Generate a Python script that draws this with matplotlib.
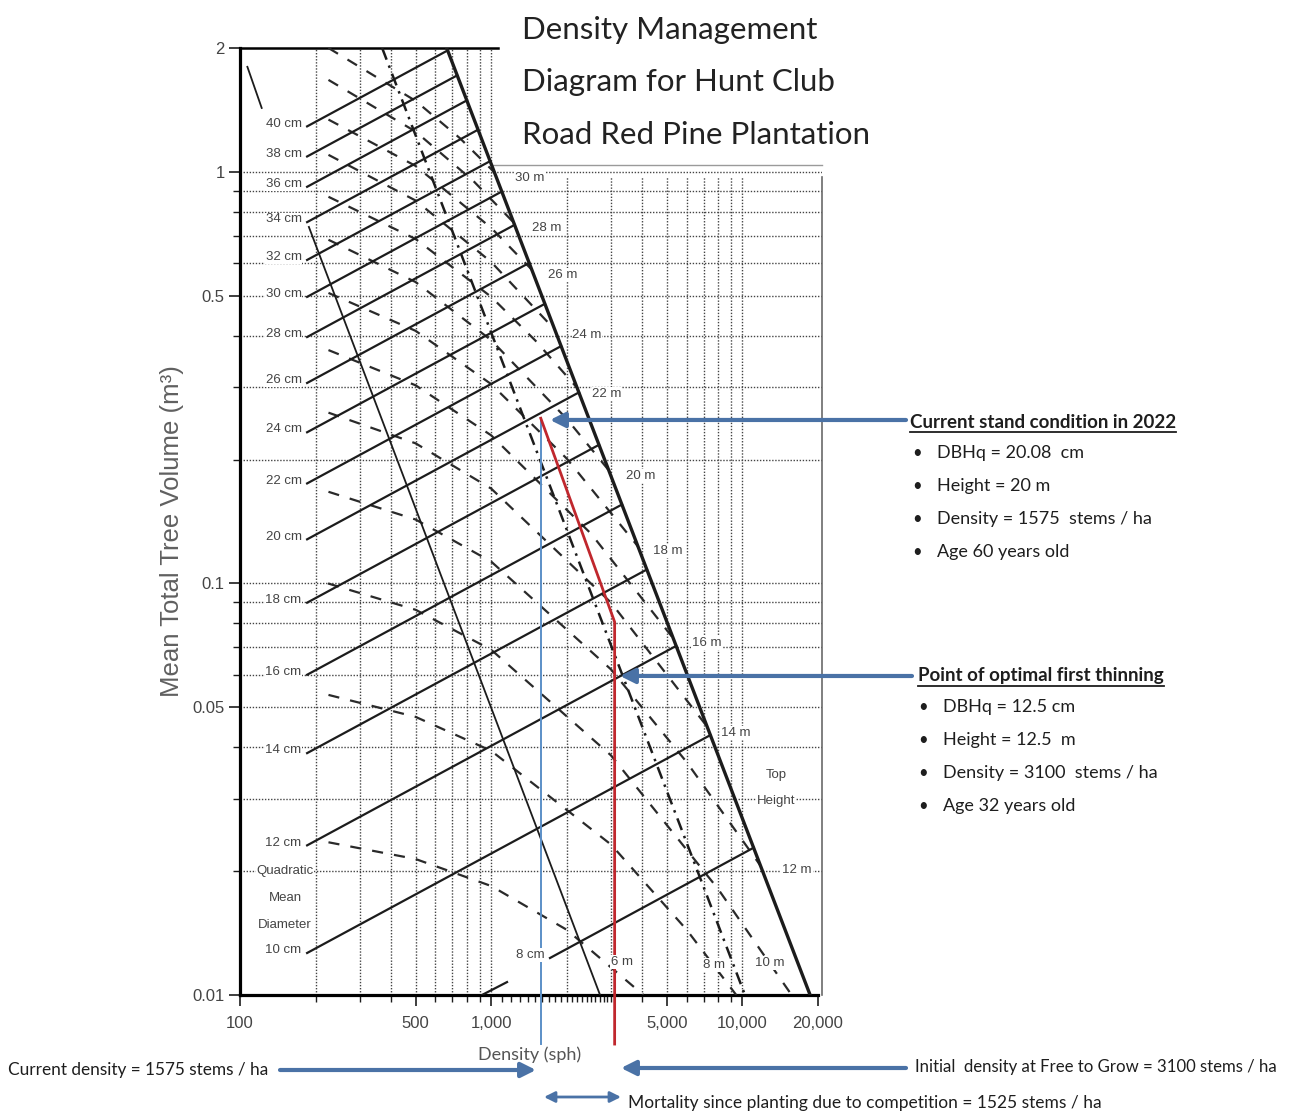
import numpy as np
import matplotlib
matplotlib.use('Agg')
import matplotlib.pyplot as plt
from matplotlib.ticker import NullFormatter
from matplotlib.lines import Line2D

W, H = 1301, 1114

# ---------------- values ----------------
# maximum size-density (self-thinning) line
max_N = [665, 18600]
max_V = [2.0, 0.01]
# thin lower boundary line
low_N = [188, 2712]
low_V = [0.735, 0.01]
# lower limit of the zone of imminent competition mortality (dash-dot)
zim_N = [368, 10240]
zim_V = [2.0, 0.01]
# short stroke in the top-left corner
corner_N = [107, 122]
corner_V = [1.80, 1.43]

# quadratic mean diameter isolines (start and end on the max line)
diam_cm = [40, 38, 36, 34, 32, 30, 28, 26, 24, 22, 20, 18, 16, 14, 12, 10, 8]
diam_N0 = [185, 185, 185, 185, 185, 185, 185, 185, 185, 185, 185, 185, 185, 185, 185, 185, 1714]
diam_V0 = [1.29, 1.09, 0.92, 0.755, 0.611, 0.497, 0.397, 0.307, 0.233, 0.175,
           0.128, 0.0898, 0.060, 0.0387, 0.0231, 0.01265, 0.0123]
diam_N1 = [671, 732, 800, 886, 990, 1102, 1239, 1417, 1635, 1898, 2234, 2686,
           3314, 4164, 5448, 7453, 11087]
diam_V1 = [1.973, 1.716, 1.492, 1.266, 1.062, 0.896, 0.7435, 0.601, 0.478, 0.3773,
           0.2912, 0.2172, 0.1555, 0.1081, 0.0705, 0.0428, 0.0228]
# short 6 cm stub at the bottom
stub_N = [919, 1156]
stub_V = [0.01, 0.01075]

# top height isolines (dashed)
height_m = [30, 28, 26, 24, 22, 20, 18, 16, 14, 12, 10, 8, 6]
height_N = [
    [225, 500, 750, 1035],
    [225, 500, 850, 1232],
    [225, 500, 1000, 1453],
    [225, 500, 1000, 1795],
    [225, 500, 1000, 1500, 2216],
    [225, 500, 1000, 2000, 2944],
    [225, 500, 1000, 2000, 3840],
    [225, 500, 1000, 2500, 5292],
    [225, 500, 1000, 3000, 7295],
    [225, 500, 1000, 3000, 6000, 11750],
    [224, 500, 1000, 3000, 8000, 15700],
    [225, 500, 1000, 3000, 6000, 9450],
    [225, 500, 1000, 2000, 4035],
]
height_V = [
    [2.0, 1.488, 1.208, 0.9945],
    [1.673, 1.253, 0.950, 0.752],
    [1.34, 1.034, 0.731, 0.578],
    [1.10, 0.852, 0.604, 0.413],
    [0.870, 0.687, 0.497, 0.389, 0.297],
    [0.684, 0.540, 0.390, 0.251, 0.188],
    [0.508, 0.411, 0.305, 0.201, 0.123],
    [0.369, 0.303, 0.229, 0.132, 0.0737],
    [0.260, 0.219, 0.170, 0.0898, 0.0446],
    [0.167, 0.143, 0.113, 0.0618, 0.0368, 0.0207],
    [0.100, 0.0863, 0.069, 0.0382, 0.0181, 0.010],
    [0.0536, 0.0474, 0.0392, 0.0232, 0.0144, 0.010],
    [0.0235, 0.0214, 0.0184, 0.0144, 0.010],
]

# stand trajectory (red) and current density (blue)
traj_N = [1575, 3100, 3100]
traj_V = [0.252, 0.0806, 0.0076]
current_N = 1575
current_V = [0.252, 0.0076]
stand_pt = (1714, 0.2496)
thin_pt = (3256, 0.0596)

xticks = [100, 500, 1000, 5000, 10000, 20000]
xticklabels = ['100', '500', '1,000', '5,000', '10,000', '20,000']
yticks = [0.01, 0.05, 0.1, 0.5, 1, 2]
yticklabels = ['0.01', '0.05', '0.1', '0.5', '1', '2']
grid_N_full = [200, 300, 400, 500, 600, 700, 800, 900, 1000]
grid_N_panel = [2000, 3000, 4000, 5000, 6000, 7000, 8000, 9000, 10000]
grid_V = [0.02, 0.03, 0.04, 0.05, 0.06, 0.07, 0.08, 0.09,
          0.1, 0.2, 0.3, 0.4, 0.5, 0.6, 0.7, 0.8, 0.9, 1.0]
xminor = [200, 300, 400, 600, 700, 800, 900] + list(range(1100, 3100, 100)) + \
         [4000, 6000, 7000, 8000, 9000]

# ---------------- figure ----------------
ARIAL = 'Liberation Sans'
CAL = 'Lato'
INK = '#1c1c1c'
GREY = '#444444'
BLUE = '#4a72a6'


def fp(x, y):
    return (x / W, 1 - y / H)


fig = plt.figure(figsize=(W / 100, H / 100), dpi=100)
ax = fig.add_axes([240 / W, 1 - 995 / H, 582 / W, 947 / H])
ax.set_xscale('log')
ax.set_yscale('log')
ax.set_xlim(100, 20740)
ax.set_ylim(0.01, 2)

ax.spines['right'].set_visible(False)
ax.spines['left'].set_linewidth(2.3)
ax.spines['bottom'].set_linewidth(2.3)
ax.spines['bottom'].set_bounds(100, 20000)
ax.spines['top'].set_linewidth(1.8)
ax.spines['top'].set_bounds(100, 1064)

ax.set_xticks(xticks)
ax.set_xticklabels(xticklabels)
ax.set_xticks(xminor, minor=True)
ax.xaxis.set_minor_formatter(NullFormatter())
ax.set_yticks(yticks)
ax.set_yticklabels(yticklabels)
ax.set_yticks(grid_V[:-1], minor=True)
ax.yaxis.set_minor_formatter(NullFormatter())
ax.tick_params(which='major', direction='out', length=8, width=1.2, color=INK,
               labelsize=12, labelcolor=GREY, pad=3)
ax.tick_params(axis='x', which='major', pad=7)
ax.tick_params(which='minor', direction='out', length=5, width=1.0, color=INK)
for lab in ax.get_xticklabels() + ax.get_yticklabels():
    lab.set_fontfamily(ARIAL)

# dotted grid
dot = (0, (1, 1.2))
gcol = '#444444'
ax.vlines(grid_N_full, 0.01, 2, colors=gcol, linestyles=dot, lw=1.0, zorder=1)
ax.vlines(grid_N_panel, 0.01, 0.97, colors=gcol, linestyles=dot, lw=1.0, zorder=1)
ax.hlines(grid_V, 100, 20740, colors=gcol, linestyles=dot, lw=1.0, zorder=1)

# right-hand panel border
ax.plot([1000, 20740], [1.04, 1.04], color='#9a9a9a', lw=1.0, clip_on=False)
ax.plot([20740, 20740], [0.01, 0.97], color='#6a6a6a', lw=1.2, clip_on=False)

# structural lines
ax.plot(max_N, max_V, color=INK, lw=2.4, zorder=4)
ax.plot(low_N, low_V, color=INK, lw=1.3, zorder=4)
ax.plot(corner_N, corner_V, color=INK, lw=1.3, zorder=4)
ax.plot(zim_N, zim_V, color=INK, lw=1.8, dashes=(5, 2.5, 1, 2.5), zorder=4)

for n0, v0, n1, v1 in zip(diam_N0, diam_V0, diam_N1, diam_V1):
    ax.plot([n0, n1], [v0, v1], color=INK, lw=1.6, zorder=4)
ax.plot(stub_N, stub_V, color=INK, lw=1.6, zorder=4)

for hn, hv in zip(height_N, height_V):
    ax.plot(hn, hv, color='#2a2a2a', lw=1.6, dashes=(5, 5), zorder=3)

# diameter labels
lab_kw = dict(fontsize=9.5, color=GREY, family=ARIAL,
              bbox=dict(facecolor='white', edgecolor='none', pad=0.6))
for d, n0, v0 in zip(diam_cm, diam_N0, diam_V0):
    ax.annotate(f'{d} cm', xy=(n0, v0), xytext=(-4, 2), textcoords='offset points',
                ha='right', va='center', zorder=6, **lab_kw)
for txt, y in [('Quadratic', 871), ('Mean', 898), ('Diameter', 925)]:
    fig.text(*fp(285, y), txt, ha='center', va='center', zorder=6, **lab_kw)

# height labels
hlabels = [('30 m', 530, 178), ('28 m', 547, 228), ('26 m', 563, 275), ('24 m', 587, 335),
           ('22 m', 607, 394), ('20 m', 641, 476), ('18 m', 668, 551), ('16 m', 707, 643),
           ('14 m', 736, 733), ('12 m', 797, 870), ('10 m', 770, 963), ('8 m', 714, 965),
           ('6 m', 622, 962), ('Top', 776, 775), ('Height', 776, 801)]
for txt, x, y in hlabels:
    fig.text(*fp(x, y), txt, ha='center', va='center', zorder=6, **lab_kw)

# trajectory
ax.plot([current_N, current_N], current_V, color='#5b8fc7', lw=1.4, zorder=5, clip_on=False)
ax.plot(traj_N, traj_V, color='#c0272d', lw=2.0, zorder=5, clip_on=False)

# axis labels
fig.text(*fp(172, 531), 'Mean Total Tree Volume (m³)', rotation=90, ha='center',
         va='center', fontsize=18.5, color='#606060', family=ARIAL)
fig.text(*fp(530, 1055), 'Density (sph)', ha='center', va='center', fontsize=13,
         color='#555555', family=CAL)

# title
for i, line in enumerate(['Density Management', 'Diagram for Hunt Club',
                          'Road Red Pine Plantation']):
    fig.text(*fp(522, 30 + 52.5 * i), line, ha='left', va='center', fontsize=22.5,
             color='#222222', family=CAL)

# annotations
arrow = dict(arrowstyle='-|>', color=BLUE, lw=3, mutation_scale=22, shrinkA=0, shrinkB=0)
ax.annotate('', xy=stand_pt, xycoords='data', xytext=fp(906, 420),
            textcoords='figure fraction', arrowprops=arrow, zorder=7)
ax.annotate('', xy=thin_pt, xycoords='data', xytext=fp(912, 676),
            textcoords='figure fraction', arrowprops=arrow, zorder=7)
fig.add_artist(matplotlib.patches.FancyArrowPatch(
    fp(280, 1070), fp(536, 1070), transform=fig.transFigure, **arrow))
fig.add_artist(matplotlib.patches.FancyArrowPatch(
    fp(906, 1068), fp(621, 1068), transform=fig.transFigure, **arrow))
dbl = dict(arrow)
dbl['arrowstyle'] = '<|-|>'
dbl['lw'] = 2
dbl['mutation_scale'] = 16
fig.add_artist(matplotlib.patches.FancyArrowPatch(
    fp(544, 1097), fp(621, 1097), transform=fig.transFigure, **dbl))

txt_kw = dict(color='#1e1e1e', family=CAL, va='center', ha='left')
heads = []
heads.append(fig.text(*fp(910, 422), 'Current stand condition in 2022', fontsize=13.5,
                      fontweight='bold', **txt_kw))
bul1 = ['DBHq = 20.08  cm', 'Height = 20 m', 'Density = 1575  stems / ha', 'Age 60 years old']
for i, b in enumerate(bul1):
    y = 453 + 33 * i
    fig.text(*fp(912, y), '•', fontsize=12, **txt_kw)
    fig.text(*fp(937, y), b, fontsize=13, **txt_kw)

heads.append(fig.text(*fp(918, 676), 'Point of optimal first thinning', fontsize=13.5,
                      fontweight='bold', **txt_kw))
bul2 = ['DBHq = 12.5 cm', 'Height = 12.5  m', 'Density = 3100  stems / ha', 'Age 32 years old']
for i, b in enumerate(bul2):
    y = 707 + 33 * i
    fig.text(*fp(918, y), '•', fontsize=12, **txt_kw)
    fig.text(*fp(943, y), b, fontsize=13, **txt_kw)

fig.text(*fp(8, 1070), 'Current density = 1575 stems / ha', fontsize=12.4, **txt_kw)
fig.text(*fp(915, 1067), 'Initial  density at Free to Grow = 3100 stems / ha',
         fontsize=12.1, **txt_kw)
fig.text(*fp(628, 1103), 'Mortality since planting due to competition = 1525 stems / ha',
         fontsize=12.5, **txt_kw)

# underline the two headings
fig.canvas.draw()
r = fig.canvas.get_renderer()
for t in heads:
    bb = t.get_window_extent(r)
    fig.add_artist(Line2D([bb.x0 / W, bb.x1 / W], [(bb.y0 - 1) / H] * 2,
                          color='#1e1e1e', lw=1.3))

fig.savefig('out.png', dpi=100)
